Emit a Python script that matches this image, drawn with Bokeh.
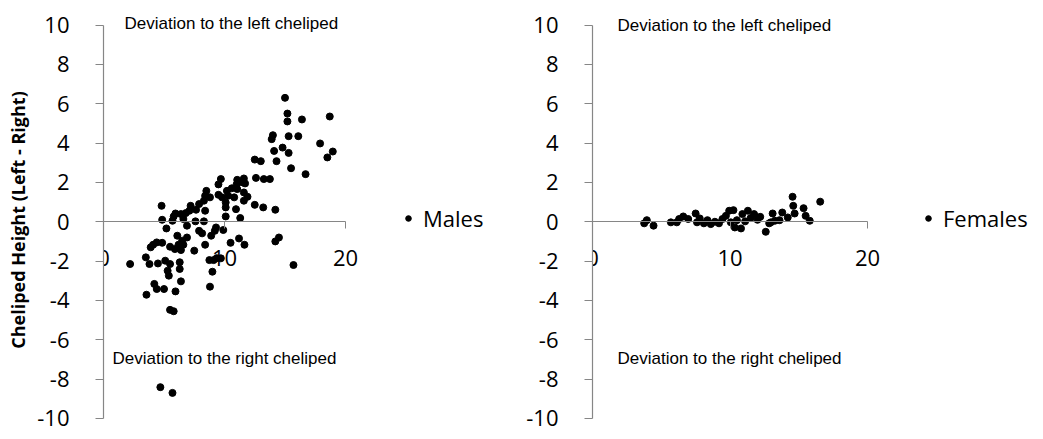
from bokeh.plotting import figure
from bokeh.layouts import row
from bokeh.models import Range1d, Label, Legend, LegendItem, FixedTicker
from bokeh.embed import file_html
from bokeh.resources import INLINE

# ---- data ----
male_x = [15.0, 15.2, 15.2, 16.4, 18.7, 14.0, 13.9, 15.3, 16.1, 17.9, 14.8, 14.1, 15.3, 18.95, 18.5,
          14.3, 15.5, 16.7, 12.5, 13.0, 12.6, 13.25, 13.75, 14.2, 12.5, 13.2, 11.6, 11.05, 11.5, 11.7,
          11.0, 9.7, 9.5, 10.6, 10.2, 11.05, 11.6, 11.9, 11.6, 10.8, 10.3, 9.5, 9.8, 10.1, 10.1,
          10.95, 10.1, 11.3, 8.5, 8.4, 8.8, 8.3, 7.9, 7.65, 8.4, 7.2, 7.1, 6.8, 6.4, 5.95,
          5.8, 4.8, 4.85, 5.7, 6.6, 7.6, 8.3, 5.2, 6.9, 6.1, 7.9, 8.15, 8.9, 9.3, 9.2,
          11.2, 14.5, 3.9, 4.1, 4.4, 4.85, 5.5, 5.9, 6.2, 6.5, 6.6, 6.9, 6.4, 7.5, 8.4,
          9.9, 10.5, 11.65, 14.2, 2.2, 3.5, 3.8, 4.5, 5.1, 5.5, 6.3, 5.3, 6.3, 5.4, 6.4,
          4.2, 4.4, 5.0, 5.95, 3.55, 8.8, 9.0, 8.75, 9.1, 9.35, 9.7, 15.7, 5.5, 5.8, 4.7, 5.7]
male_y = [6.3, 5.5, 5.1, 5.2, 5.35, 4.4, 4.2, 4.35, 4.35, 3.98, 3.77, 3.6, 3.5, 3.57, 3.27,
          3.08, 2.72, 2.42, 3.16, 3.08, 2.23, 2.17, 2.17, 0.61, 0.86, 0.73, 2.2, 2.13, 2.0, 1.95,
          1.9, 2.17, 1.9, 1.7, 1.57, 1.66, 1.49, 1.27, 1.07, 1.24, 1.32, 1.37, 1.24, 0.98, 0.73,
          0.64, 0.27, 0.19, 1.57, 1.32, 1.24, 1.07, 0.9, 0.61, 0.56, 0.81, 0.56, 0.44, 0.39, 0.42,
          0.27, 0.81, 0.10, 0.05, 0.14, 0.02, 0.02, -0.34, -0.2, -0.71, -0.46, -0.59, -0.71, -0.29, -0.46,
          -0.85, -0.8, -1.30, -1.17, -1.05, -1.07, -1.27, -1.39, -1.17, -0.96, -1.17, -0.8, -1.44, -1.47, -1.17,
          -0.42, -1.07, -1.17, -1.0, -2.15, -1.81, -2.15, -2.12, -1.98, -2.15, -2.06, -2.49, -2.4, -2.74, -3.03,
          -3.16, -3.42, -3.42, -3.54, -3.71, -3.3, -2.54, -1.95, -1.95, -1.85, -1.86, -2.2, -4.48, -4.55, -8.41, -8.7]

female_x = [3.76, 3.95, 4.44, 5.7, 6.13, 6.3, 6.6, 6.96, 7.5, 7.6, 7.8, 8.1, 8.36, 8.6, 8.9,
            9.2, 9.45, 9.7, 9.94, 10.06, 10.25, 10.35, 10.5, 10.8, 10.9, 11.1, 11.3, 11.5, 11.75, 12.0,
            12.2, 12.6, 12.85, 12.97, 13.1, 13.26, 13.6, 13.8, 14.2, 14.55, 14.6, 14.7, 15.35, 15.5, 15.8,
            16.56]
female_y = [-0.08, 0.08, -0.2, -0.03, -0.03, 0.14, 0.27, 0.14, 0.42, -0.03, 0.17, -0.08, 0.08, -0.12, 0.0,
            -0.08, 0.14, 0.3, 0.56, -0.03, 0.59, -0.29, 0.08, -0.34, 0.39, 0.02, 0.56, 0.19, 0.39, 0.10,
            0.25, -0.51, -0.08, -0.03, 0.42, 0.05, 0.08, 0.47, 0.22, 1.27, 0.81, 0.42, 0.69, 0.30, 0.05,
            1.02]

x_ticks = [0, 10, 20]
y_ticks = [-10, -8, -6, -4, -2, 0, 2, 4, 6, 8, 10]
y_tick_labels = ["-10", "-8", "-6", "-4", "-2", "0", "2", "4", "6", "8", "10"]
y_title = "Cheliped Height (Left - Right)"
top_note = "Deviation to the left cheliped"
bottom_note = "Deviation to the right cheliped"
series_names = ["Males", "Females"]

AXIS_GRAY = "#868686"
H = 439
PX_PER_Y = 19.67
Y0_PX = 221.25
Y_TOP = Y0_PX / PX_PER_Y
Y_BOT = -(H - Y0_PX) / PX_PER_Y


def make_panel(xs, ys, name, width, border_left, px_per_x, legend_x, top_x, bot_x, top_y, ytitle):
    frame_w = width - border_left
    p = figure(width=width, height=H,
               x_range=Range1d(0, frame_w / px_per_x), y_range=Range1d(Y_BOT, Y_TOP),
               output_backend="svg", toolbar_location=None,
               min_border_left=border_left, min_border_right=0,
               min_border_top=0, min_border_bottom=0)
    p.outline_line_color = None
    p.grid.visible = False
    p.background_fill_color = "white"
    p.border_fill_color = "white"

    r = p.scatter(xs, ys, size=7, color="black", line_color="black")

    xa = p.xaxis[0]
    xa.fixed_location = 0
    xa.bounds = (0, 20)
    xa.ticker = FixedTicker(ticks=x_ticks)
    xa.minor_tick_line_color = None
    xa.axis_line_color = AXIS_GRAY
    xa.axis_line_width = 1.2
    xa.major_tick_line_color = AXIS_GRAY
    xa.major_tick_out = 7
    xa.major_tick_in = 0
    xa.major_label_standoff = 21
    xa.major_label_text_font = "Open Sans"
    xa.major_label_text_font_size = "22px"
    xa.major_label_text_color = "black"

    ya = p.yaxis[0]
    ya.bounds = (-10, 10)
    ya.ticker = FixedTicker(ticks=y_ticks)
    ya.major_label_overrides = {t: s for t, s in zip(y_ticks, y_tick_labels)}
    ya.minor_tick_line_color = None
    ya.axis_line_color = AXIS_GRAY
    ya.axis_line_width = 1.2
    ya.major_tick_line_color = AXIS_GRAY
    ya.major_tick_out = 8
    ya.major_tick_in = 0
    ya.major_label_standoff = 26
    ya.major_label_text_font = "Open Sans"
    ya.major_label_text_font_size = "22px"
    ya.major_label_text_color = "black"
    if ytitle:
        ya.axis_label = ytitle
        ya.axis_label_text_font = "Open Sans"
        ya.axis_label_text_font_style = "bold"
        ya.axis_label_text_font_size = "18px"
        ya.axis_label_text_color = "black"
        ya.axis_label_standoff = 4

    p.add_layout(Label(x=top_x, y=top_y, text=top_note, text_font="Liberation Sans",
                       text_font_size="17px", text_color="black", text_baseline="alphabetic"))
    p.add_layout(Label(x=bot_x, y=-6.95, text=bottom_note, text_font="Liberation Sans",
                       text_font_size="17px", text_color="black", text_baseline="alphabetic"))

    legend = Legend(items=[LegendItem(label=name, renderers=[r])],
                    location=(legend_x, 206), glyph_width=14, glyph_height=24,
                    label_height=24, label_standoff=8, padding=0, margin=0,
                    border_line_color=None, background_fill_alpha=0,
                    label_text_font="Open Sans", label_text_font_size="22px",
                    label_text_color="black")
    p.add_layout(legend)
    return p


left = make_panel(male_x, male_y, series_names[0], 520, 103, 12.1, 298, 1.74, 0.74, 10.06, y_title)
right = make_panel(female_x, female_y, series_names[1], 523, 72, 13.75, 329, 1.82, 1.82, 9.98, None)

layout = row(left, right)
open("out.html", "w").write(file_html(layout, INLINE))
